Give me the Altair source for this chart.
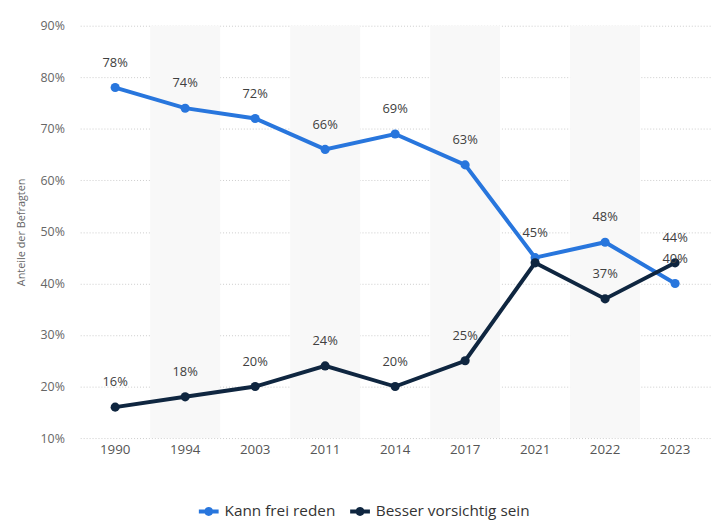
import altair as alt
import pandas as pd

years = ["1990", "1994", "2003", "2011", "2014", "2017", "2021", "2022", "2023"]
series_names = ["Kann frei reden", "Besser vorsichtig sein"]
kann_frei = [78, 74, 72, 66, 69, 63, 45, 48, 40]
vorsichtig = [16, 18, 20, 24, 20, 25, 44, 37, 44]
shaded_years = ["1994", "2011", "2017", "2022"]
hidden_labels = [("Besser vorsichtig sein", "2021")]
colors = ["#2876dd", "#0f2640"]

rows = []
for name, vals in zip(series_names, [kann_frei, vorsichtig]):
    for y, v in zip(years, vals):
        rows.append({"Jahr": y, "Serie": name, "Wert": v,
                     "show": (name, y) not in hidden_labels})
df = pd.DataFrame(rows)
bands = pd.DataFrame({"Jahr": shaded_years})

xscale = alt.Scale(type="band", domain=years, paddingInner=0, paddingOuter=0)
yscale = alt.Scale(domain=[10, 90], nice=False, zero=False)
color = alt.Color("Serie:N", scale=alt.Scale(domain=series_names, range=colors),
                  sort=series_names,
                  legend=alt.Legend(title=None, orient="none", direction="horizontal",
                                    legendX=120, legendY=481,
                                    symbolType="M-1,-0.2L1,-0.2L1,0.2L-1,0.2Z M0.45,0A0.45,0.45 0 1 1 -0.45,0A0.45,0.45 0 1 1 0.45,0Z",
                                    symbolSize=400, symbolStrokeWidth=0,
                                    labelFont="Open Sans", labelFontSize=15.5,
                                    labelFontWeight=500,
                                    labelColor="#333333", columnPadding=14,
                                    labelOffset=6, symbolOffset=0))

bg = alt.Chart(bands).mark_rect(color="#f8f8f8").encode(
    x=alt.X("Jahr:N", scale=xscale, sort=years)
)

base = alt.Chart(df).encode(
    x=alt.X("Jahr:N", scale=xscale, sort=years, bandPosition=0.5,
            axis=alt.Axis(title=None, labelAngle=0, labelAlign="center", bandPosition=0.5,
                          labelFont="Open Sans",
                          labelFontSize=13.5, labelColor="#555555", labelPadding=12,
                          ticks=False, domain=False, grid=False)),
    y=alt.Y("Wert:Q", scale=yscale,
            axis=alt.Axis(title="Anteile der Befragten", values=list(range(10, 100, 10)),
                          labelExpr="datum.value + '%'", labelFont="Open Sans",
                          labelFontSize=12.5, labelColor="#666666", labelPadding=16,
                          titleFont="Open Sans", titleFontSize=11, titleFontWeight="normal",
                          titleColor="#666666", titlePadding=14,
                          ticks=False, domain=False, grid=True,
                          gridColor="#cccccc", gridDash=[1, 2], gridWidth=1)),
    color=color,
)

lines = base.mark_line(strokeWidth=4)
points = base.mark_point(filled=True, size=85, opacity=1)
labels = base.transform_filter("datum.show").transform_calculate(
    lbl="datum.Wert + '%'"
).mark_text(dy=-25, font="Open Sans", fontSize=13, fontWeight=500).encode(
    text="lbl:N", color=alt.value("#404040"))

chart = alt.layer(bg, lines, points, labels).properties(
    width=637, height=417,
    autosize=alt.AutoSizeParams(type="none"),
    padding={"left": 73, "top": 15, "right": 8, "bottom": 85},
).configure_view(stroke=None)

chart.save("out.html", embed_options={"renderer": "svg", "actions": False})
